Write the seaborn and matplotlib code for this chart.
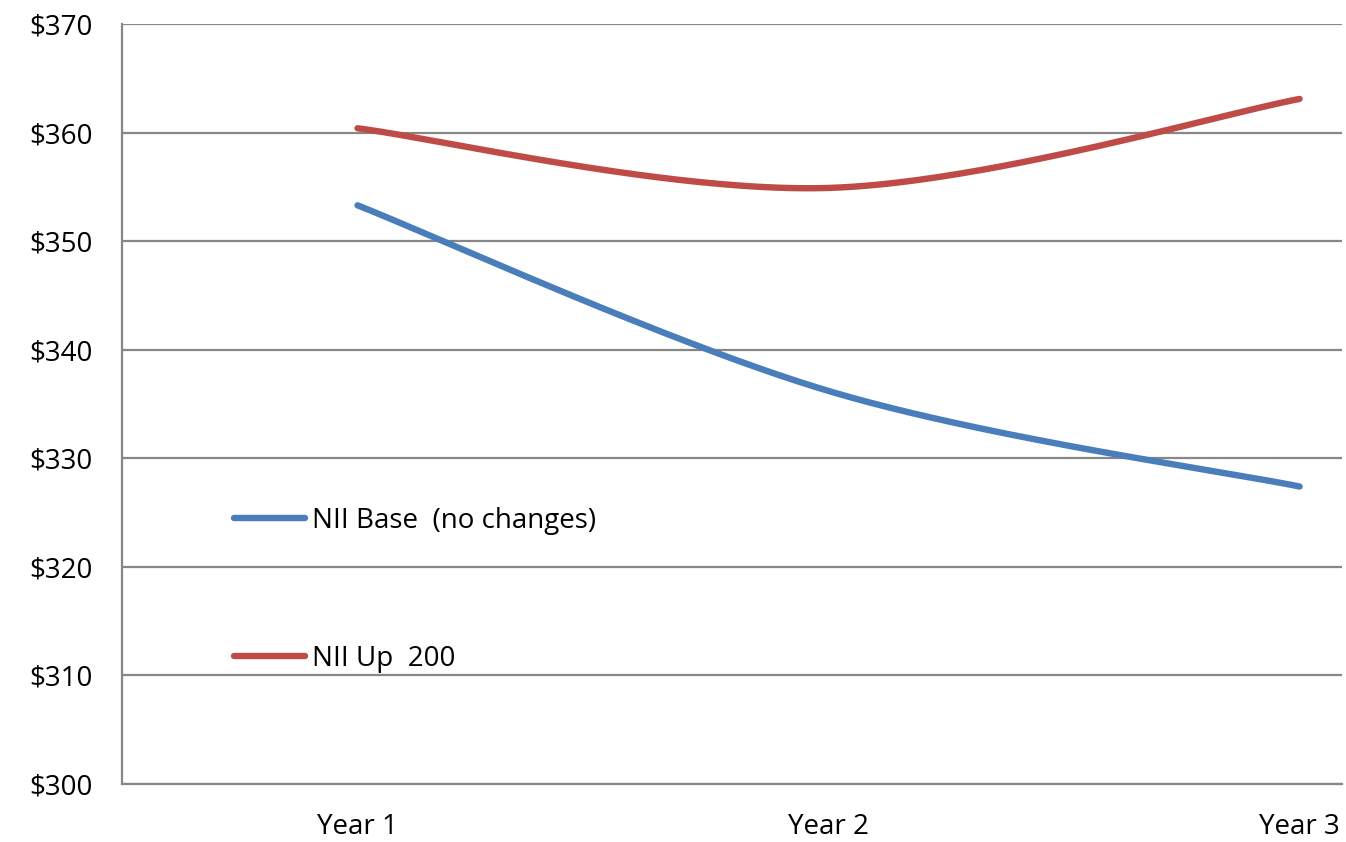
import numpy as np
import pandas as pd
import matplotlib
matplotlib.use("Agg")
import matplotlib.pyplot as plt
import seaborn as sns
from matplotlib.lines import Line2D

# Net interest income projections
years = ["Year 1", "Year 2", "Year 3"]
nii_base = [353.3, 336.2, 327.4]
nii_up200 = [360.4, 354.9, 363.1]
series_names = ["NII Base  (no changes)", "NII Up  200"]
series_colors = ["#4A7EBB", "#BE4B48"]
y_ticks = [300, 310, 320, 330, 340, 350, 360, 370]
y_tick_labels = [f"${v}" for v in y_ticks]


def smooth_curve(xs, ys, n=80):
    """Smoothed line through the points: cubic Bezier segments with
    Catmull-Rom style control points (as spreadsheet 'smoothed lines')."""
    pts = np.column_stack([xs, ys]).astype(float)
    out = []
    last = len(pts) - 1
    for i in range(last):
        p0 = pts[max(i - 1, 0)]
        p1 = pts[i]
        p2 = pts[i + 1]
        p3 = pts[min(i + 2, last)]
        c1 = p1 + (p2 - p0) / 6.0
        c2 = p2 - (p3 - p1) / 6.0
        t = np.linspace(0, 1, n)[:, None]
        seg = ((1 - t) ** 3) * p1 + 3 * ((1 - t) ** 2) * t * c1 \
            + 3 * (1 - t) * (t ** 2) * c2 + (t ** 3) * p2
        out.append(seg if i == 0 else seg[1:])
    return np.vstack(out)


sns.set_style("white")
plt.rcParams["font.family"] = ["Open Sans", "DejaVu Sans"]
plt.rcParams["text.color"] = "black"
plt.rcParams["xtick.labelcolor"] = "black"
plt.rcParams["ytick.labelcolor"] = "black"
FS = 20

fig = plt.figure(figsize=(13.46, 8.42), dpi=100)
ax = fig.add_axes([122 / 1346, 1 - 784 / 842, 1220 / 1346, 760 / 842])

xpos = np.arange(len(years))
for vals, name, col in zip([nii_base, nii_up200], series_names, series_colors):
    curve = smooth_curve(xpos, vals)
    df = pd.DataFrame({"x": curve[:, 0], "y": curve[:, 1]})
    sns.lineplot(data=df, x="x", y="y", sort=False, estimator=None,
                 color=col, linewidth=4.6, solid_capstyle="round", ax=ax)

grid_col = "#878787"
ax.set_ylim(300, 370)
ax.set_xlim(-0.5, 2.09)
ax.set_yticks(y_ticks)
ax.set_yticklabels(y_tick_labels)
ax.yaxis.grid(True, color=grid_col, linewidth=1.6)
ax.set_axisbelow(True)

# category boundaries carry the tick marks; names sit between them
ax.set_xticks([-0.5, 0.5, 1.5])
ax.set_xticklabels([])
ax.set_xticks(xpos, minor=True)
ax.set_xticklabels(years, minor=True)
ax.tick_params(axis="x", which="minor", length=0, pad=21, labelsize=FS,
               labelcolor="black")
ax.tick_params(axis="x", which="major", length=8, width=1.6, color=grid_col,
               direction="out")
ax.tick_params(axis="y", length=8, width=1.6, color=grid_col, direction="out",
               pad=13, labelsize=FS, labelcolor="black")
ax.set_xlabel("")
ax.set_ylabel("")

for side in ["top", "right"]:
    ax.spines[side].set_visible(False)
for side in ["left", "bottom"]:
    ax.spines[side].set_color(grid_col)
    ax.spines[side].set_linewidth(1.6)

handles = [Line2D([], [], color=c, linewidth=4.6, solid_capstyle="round")
           for c in series_colors]
ax.legend(handles, series_names, loc="center left",
          bbox_to_anchor=(0.092, 0.2555), frameon=False, fontsize=FS,
          handlelength=2.55, handletextpad=0.25, labelspacing=3.97,
          borderpad=0, borderaxespad=0, labelcolor="black")

fig.savefig("out.png", dpi=100)
